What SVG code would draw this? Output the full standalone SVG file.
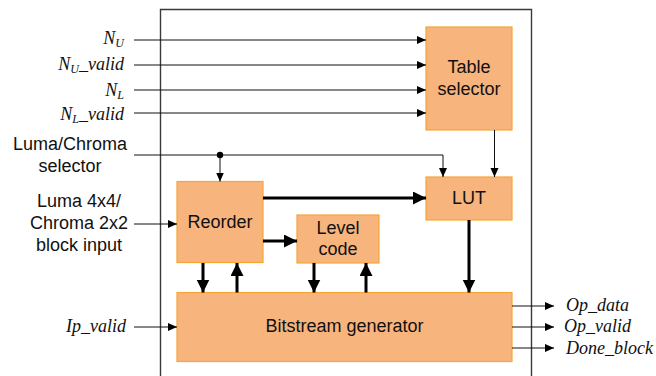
<svg xmlns="http://www.w3.org/2000/svg" width="656" height="376" viewBox="0 0 656 376">
  <style>
    .blk { fill: #F7B47D; stroke: #F7A534; stroke-width: 1.2; }
    .lbl { font-family: "Liberation Sans", Arial, sans-serif; font-size: 18px; fill: #111; text-anchor: middle; }
    .sig { font-family: "Liberation Serif", "Times New Roman", serif; font-style: italic; font-size: 18px; fill: #111; }
    .sub { font-size: 12px; }
    .thin { stroke: #111; stroke-width: 1; fill: none; marker-end: url(#ah); }
    .thick { stroke: #000; stroke-width: 3; fill: none; marker-end: url(#ahb); }
  </style>
  <defs>
    <marker id="ah" markerUnits="userSpaceOnUse" markerWidth="10" markerHeight="10" refX="9" refY="4" orient="auto">
      <path d="M0,0 L9,4 L0,8 Z" fill="#000"/>
    </marker>
    <marker id="ahb" markerUnits="userSpaceOnUse" markerWidth="14" markerHeight="14" refX="13" refY="6.5" orient="auto">
      <path d="M0,0 L13,6.5 L0,13 Z" fill="#000"/>
    </marker>
  </defs>

  <rect width="656" height="376" fill="#fff"/>

  <!-- module boundary (open at the bottom) -->
  <path d="M160.5,380 V9.5 H531.5 V380" fill="none" stroke="#3a3a3a" stroke-width="1.4"/>

  <!-- external signal labels -->
  <g id="inputs">
    <text class="sig" x="124" y="44" text-anchor="end">N<tspan class="sub" dy="3">U</tspan></text>
    <text class="sig" x="124" y="70" text-anchor="end">N<tspan class="sub" dy="3">U</tspan><tspan dy="-3">_valid</tspan></text>
    <text class="sig" x="124" y="96" text-anchor="end">N<tspan class="sub" dy="3">L</tspan></text>
    <text class="sig" x="124" y="120" text-anchor="end">N<tspan class="sub" dy="3">L</tspan><tspan dy="-3">_valid</tspan></text>
    <text class="lbl" x="70" y="150">Luma/Chroma</text>
    <text class="lbl" x="70" y="172">selector</text>
    <text class="lbl" x="79" y="207">Luma 4x4/</text>
    <text class="lbl" x="79" y="229">Chroma 2x2</text>
    <text class="lbl" x="79" y="251">block input</text>
    <text class="sig" x="126" y="332" text-anchor="end">Ip_valid</text>
  </g>
  <g id="outputs">
    <text class="sig" x="566" y="311">Op_data</text>
    <text class="sig" x="564" y="332">Op_valid</text>
    <text class="sig" x="566" y="354">Done_block</text>
  </g>

  <!-- blocks -->
  <g id="table-selector">
    <rect class="blk" x="426" y="27" width="86" height="103"/>
    <text class="lbl" x="469" y="73">Table</text>
    <text class="lbl" x="469" y="95">selector</text>
  </g>
  <g id="lut">
    <rect class="blk" x="426" y="177" width="86" height="43"/>
    <text class="lbl" x="469" y="204">LUT</text>
  </g>
  <g id="reorder">
    <rect class="blk" x="177" y="181.5" width="86" height="81"/>
    <text class="lbl" x="220" y="228">Reorder</text>
  </g>
  <g id="level-code">
    <rect class="blk" x="297" y="215" width="82" height="48"/>
    <text class="lbl" x="338" y="234">Level</text>
    <text class="lbl" x="338" y="255">code</text>
  </g>
  <g id="bitstream-generator">
    <rect class="blk" x="177" y="292.5" width="335" height="69"/>
    <text class="lbl" x="344.5" y="332">Bitstream generator</text>
  </g>

  <!-- connectors -->
  <g id="connectors">
    <path class="thin" d="M134,40 H426"/>
    <path class="thin" d="M134,65 H426"/>
    <path class="thin" d="M134,90 H426"/>
    <path class="thin" d="M134,113 H426"/>
    <path class="thin" d="M134,155 H443 V177"/>
    <path class="thin" d="M220,155 V181.5"/>
    <circle cx="220" cy="155" r="3.2" fill="#000"/>
    <path class="thin" d="M494.5,130 V177"/>
    <path class="thin" d="M134,224 H177"/>
    <path class="thin" d="M134,327 H177"/>

    <path class="thick" d="M263,198 H426"/>
    <path class="thick" d="M263,241 H297"/>
    <path class="thick" d="M203,263 V292.5"/>
    <path class="thick" d="M237,292.5 V263"/>
    <path class="thick" d="M314,263 V292.5"/>
    <path class="thick" d="M366,292.5 V263"/>
    <path class="thick" d="M469,220 V292.5"/>

    <path class="thin" d="M512,306 H554"/>
    <path class="thin" d="M512,327 H554"/>
    <path class="thin" d="M512,348 H554"/>
  </g>
</svg>
